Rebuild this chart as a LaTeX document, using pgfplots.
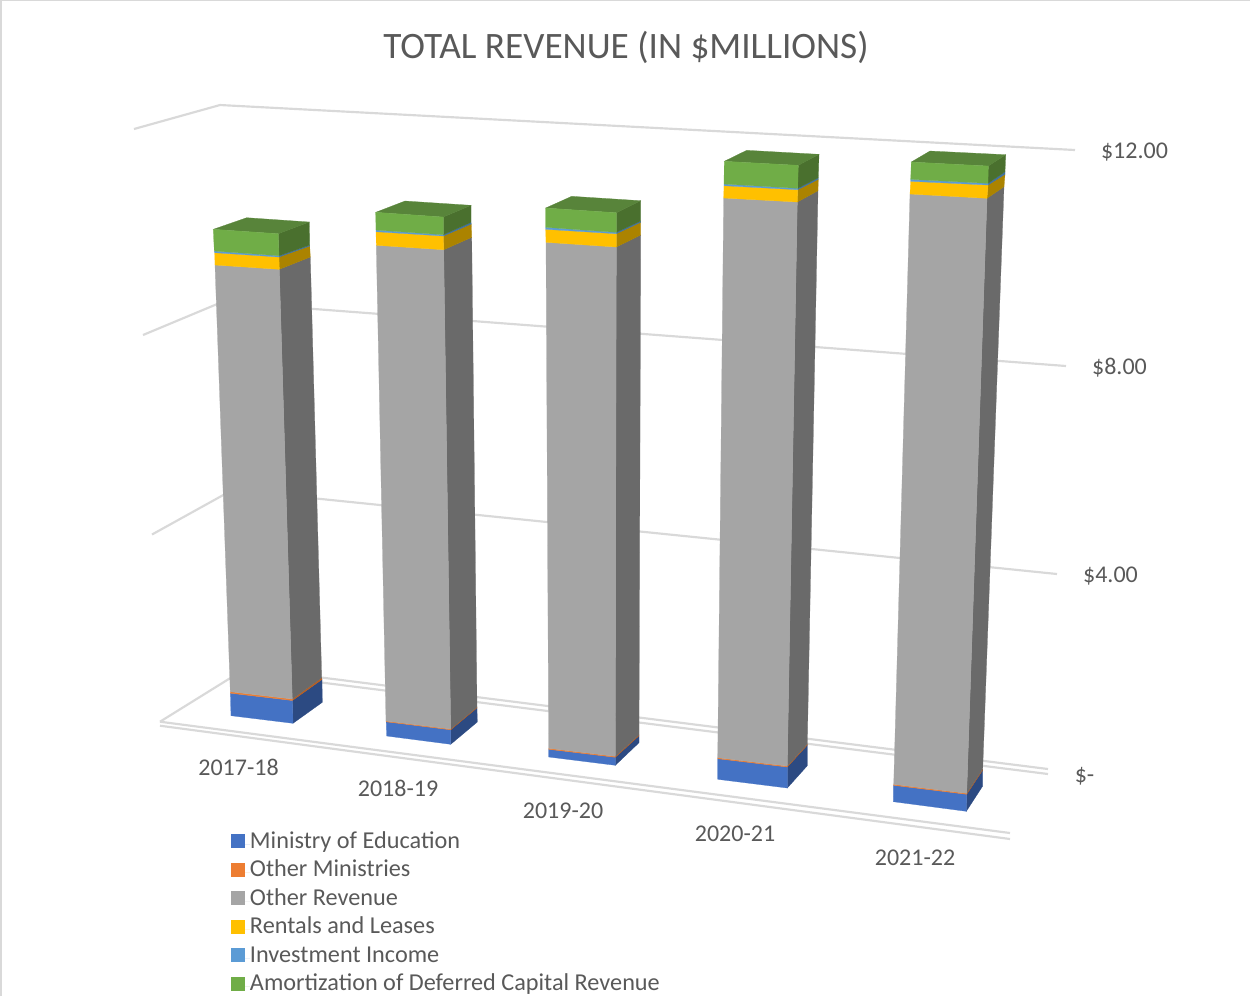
\documentclass[border=0pt]{standalone}
\usepackage{fontspec}
\setmainfont{Carlito}
\usepackage{pgfplots}
\pgfplotsset{compat=1.18}
\definecolor{cBlue}{HTML}{4472C4}\definecolor{sBlue}{HTML}{2C4A82}
\definecolor{cOrange}{HTML}{ED7D31}\definecolor{sOrange}{HTML}{B85F22}
\definecolor{cGray}{HTML}{A5A5A5}\definecolor{sGray}{HTML}{6A6A6A}
\definecolor{cYellow}{HTML}{FFC000}\definecolor{sYellow}{HTML}{AB8300}
\definecolor{cLBlue}{HTML}{5B9BD5}\definecolor{sLBlue}{HTML}{3F72A0}
\definecolor{cGreen}{HTML}{70AD47}\definecolor{sGreen}{HTML}{4A702E}\definecolor{tGreen}{HTML}{58843A}
\definecolor{grid}{HTML}{D9D9D9}\definecolor{txt}{HTML}{595959}
\pgfplotsset{
  poly/.style={fill=#1,draw=#1,line width=0.15pt,forget plot,mark=none},
  gl/.style={draw=grid,line width=1.3pt,forget plot,mark=none},
}
\tikzset{lab/.style={font=\fontsize{14.4pt}{16pt}\selectfont,text=txt,inner sep=0pt,anchor=center}}
\begin{document}
\begin{tikzpicture}
\useasboundingbox (0,0) rectangle (750pt,597.6pt);
\begin{axis}[
  at={(0,0)},anchor=south west,
  width=750pt,height=597.6pt,scale only axis,
  xmin=0,xmax=1250,ymin=0,ymax=996,y dir=reverse,
  hide axis,clip=false,
  legend style={at={(0.1848,0.1668)},anchor=north west,draw=none,fill=none,inner sep=0pt,outer sep=0pt,
    font=\fontsize{14.55pt}{16pt}\selectfont,text=txt,row sep=0pt,
    nodes={text height=11pt,text depth=6.1pt,inner sep=0pt,outer sep=0pt}},
  legend cell align=left,
  legend image code/.code={\path[#1] (0pt,-2.5pt) rectangle (8.6pt,5.9pt);\path (0pt,0pt) -- (11.4pt,0pt);},
]
% frame
\addplot[draw=grid,line width=0.8pt,forget plot,mark=none] coordinates {(1,996) (1,0.5) (1250,0.5)};
% walls and floor gridlines
\addplot[gl] coordinates {(134,129) (220,105) (1075,150)};
\addplot[gl] coordinates {(143,335) (222,302) (1066,366)};
\addplot[gl] coordinates {(152,534.5) (226,493.5)};
\addplot[gl] coordinates {(226,489.3) (1057,574)};
\addplot[gl] coordinates {(230,666) (1048,769)};
\addplot[gl] coordinates {(230,671) (1048,774)};
\addplot[gl] coordinates {(160,721.7) (232,677)};
\addplot[gl] coordinates {(160,721.7) (1010,833)};
\addplot[gl] coordinates {(160,725.7) (1010,839)};
% ---- 2017-18
\addplot[poly=sBlue] coordinates {(293,723.3) (322.3,702.3) (322,679.5) (292.4,700.5)} -- cycle;
\addplot[poly=sOrange] coordinates {(292.4,700.5) (322,679.5) (321.7,677.7) (292.3,699)} -- cycle;
\addplot[poly=sGray] coordinates {(292.3,699) (321.7,677.7) (310.3,257) (279.3,269.3)} -- cycle;
\addplot[poly=sYellow] coordinates {(279.3,269.3) (310.3,257) (309.7,246) (279,257)} -- cycle;
\addplot[poly=sLBlue] coordinates {(279,257) (309.7,246) (309.7,245) (279,255.7)} -- cycle;
\addplot[poly=sGreen] coordinates {(279,255.7) (309.7,245) (309.3,222) (278.3,233.7)} -- cycle;
\addplot[poly=tGreen] coordinates {(213.3,229.3) (278.3,233.7) (309.3,222) (246.7,217.7)} -- cycle;
\addplot[poly=cBlue] coordinates {(231,715.7) (293,723.3) (292.4,700.5) (230.4,693.2)} -- cycle;
\addplot[poly=cOrange] coordinates {(230.4,693.2) (292.4,700.5) (292.3,699) (230.3,691.7)} -- cycle;
\addplot[poly=cGray] coordinates {(230.3,691.7) (292.3,699) (279.3,269.3) (215,265)} -- cycle;
\addplot[poly=cYellow] coordinates {(215,265) (279.3,269.3) (279,257) (214.7,252.7)} -- cycle;
\addplot[poly=cLBlue] coordinates {(214.7,252.7) (279,257) (279,255.7) (214.3,251)} -- cycle;
\addplot[poly=cGreen] coordinates {(214.3,251) (279,255.7) (278.3,233.7) (213.3,229.3)} -- cycle;
% ---- 2018-19
\addplot[poly=sBlue] coordinates {(450.7,744.3) (477.3,722) (477,707.8) (450.7,729.8)} -- cycle;
\addplot[poly=sOrange] coordinates {(450.7,729.8) (477,707.8) (477,707) (450.7,729)} -- cycle;
\addplot[poly=sGray] coordinates {(450.7,729) (477,707) (471.7,237.3) (443.7,249.7)} -- cycle;
\addplot[poly=sYellow] coordinates {(443.7,249.7) (471.7,237.3) (471.3,224) (443.3,236)} -- cycle;
\addplot[poly=sLBlue] coordinates {(443.3,236) (471.3,224) (471,222.3) (443.3,234.7)} -- cycle;
\addplot[poly=sGreen] coordinates {(443.3,234.7) (471,222.3) (471,205.3) (443.3,217)} -- cycle;
\addplot[poly=tGreen] coordinates {(375.7,212.3) (443.3,217) (471,205.3) (405,201)} -- cycle;
\addplot[poly=cBlue] coordinates {(386.7,736) (450.7,744.3) (450.7,729.8) (386.2,721.8)} -- cycle;
\addplot[poly=cOrange] coordinates {(386.2,721.8) (450.7,729.8) (450.7,729) (386,721)} -- cycle;
\addplot[poly=cGray] coordinates {(386,721) (450.7,729) (443.7,249.7) (376.3,245.3)} -- cycle;
\addplot[poly=cYellow] coordinates {(376.3,245.3) (443.7,249.7) (443.3,236) (376,231.7)} -- cycle;
\addplot[poly=cLBlue] coordinates {(376,231.7) (443.3,236) (443.3,234.7) (376,230)} -- cycle;
\addplot[poly=cGreen] coordinates {(376,230) (443.3,234.7) (443.3,217) (375.7,212.3)} -- cycle;
% ---- 2019-20
\addplot[poly=sBlue] coordinates {(615.3,765.3) (639,742.7) (639,735.7) (615.3,757.3)} -- cycle;
\addplot[poly=sOrange] coordinates {(615.3,757.3) (639,735.7) (639,734.7) (615.3,756.3)} -- cycle;
\addplot[poly=sGray] coordinates {(615.3,756.3) (639,734.7) (640.7,235) (616.3,247)} -- cycle;
\addplot[poly=sYellow] coordinates {(616.3,247) (640.7,235) (640.7,222.3) (616.3,233.7)} -- cycle;
\addplot[poly=sLBlue] coordinates {(616.3,233.7) (640.7,222.3) (640.7,221) (616.3,232.3)} -- cycle;
\addplot[poly=sGreen] coordinates {(616.3,232.3) (640.7,221) (640.7,200.7) (616.3,212.7)} -- cycle;
\addplot[poly=tGreen] coordinates {(545.7,208) (616.3,212.7) (640.7,200.7) (571.7,196.3)} -- cycle;
\addplot[poly=cBlue] coordinates {(548.7,757) (615.3,765.3) (615.3,757.3) (548.7,749.3)} -- cycle;
\addplot[poly=cOrange] coordinates {(548.7,749.3) (615.3,757.3) (615.3,756.3) (548.7,748.3)} -- cycle;
\addplot[poly=cGray] coordinates {(548.7,748.3) (615.3,756.3) (616.3,247) (546,242.3)} -- cycle;
\addplot[poly=cYellow] coordinates {(546,242.3) (616.3,247) (616.3,233.7) (545.7,229.3)} -- cycle;
\addplot[poly=cLBlue] coordinates {(545.7,229.3) (616.3,233.7) (616.3,232.3) (545.7,227.3)} -- cycle;
\addplot[poly=cGreen] coordinates {(545.7,227.3) (616.3,232.3) (616.3,212.7) (545.7,208)} -- cycle;
% ---- 2020-21
\addplot[poly=sBlue] coordinates {(787.3,788) (807.3,765.7) (807.3,745) (787.3,767)} -- cycle;
\addplot[poly=sOrange] coordinates {(787.3,767) (807.3,745) (807.3,744) (787.3,766)} -- cycle;
\addplot[poly=sGray] coordinates {(787.3,766) (807.3,744) (818,190.7) (797.3,202)} -- cycle;
\addplot[poly=sYellow] coordinates {(797.3,202) (818,190.7) (818.3,179.3) (797.7,189.7)} -- cycle;
\addplot[poly=sLBlue] coordinates {(797.7,189.7) (818.3,179.3) (818.3,177.7) (797.7,188.3)} -- cycle;
\addplot[poly=sGreen] coordinates {(797.7,188.3) (818.3,177.7) (819,154.3) (798.3,165.3)} -- cycle;
\addplot[poly=tGreen] coordinates {(724.3,161.3) (798.3,165.3) (819,154.3) (746.7,150.3)} -- cycle;
\addplot[poly=cBlue] coordinates {(717.7,779.3) (787.3,788) (787.3,767) (717.7,758.7)} -- cycle;
\addplot[poly=cOrange] coordinates {(717.7,758.7) (787.3,767) (787.3,766) (717.7,757.7)} -- cycle;
\addplot[poly=cGray] coordinates {(717.7,757.7) (787.3,766) (797.3,202) (723.7,198)} -- cycle;
\addplot[poly=cYellow] coordinates {(723.7,198) (797.3,202) (797.7,189.7) (724,185.7)} -- cycle;
\addplot[poly=cLBlue] coordinates {(724,185.7) (797.7,189.7) (797.7,188.3) (724,184)} -- cycle;
\addplot[poly=cGreen] coordinates {(724,184) (797.7,188.3) (798.3,165.3) (724.3,161.3)} -- cycle;
% ---- 2021-22
\addplot[poly=sBlue] coordinates {(966.3,811.3) (982.7,786) (982.7,770) (966.7,794.3)} -- cycle;
\addplot[poly=sOrange] coordinates {(966.7,794.3) (982.7,770) (982.7,769) (966.7,793.3)} -- cycle;
\addplot[poly=sGray] coordinates {(966.7,793.3) (982.7,769) (1004,186.7) (987,198.3)} -- cycle;
\addplot[poly=sYellow] coordinates {(987,198.3) (1004,186.7) (1005,174.3) (988,185)} -- cycle;
\addplot[poly=sLBlue] coordinates {(988,185) (1005,174.3) (1005,171.7) (988,183.3)} -- cycle;
\addplot[poly=sGreen] coordinates {(988,183.3) (1005,171.7) (1005.7,154.7) (988.3,166)} -- cycle;
\addplot[poly=tGreen] coordinates {(911.3,162) (988.3,166) (1005.7,154.7) (930,151)} -- cycle;
\addplot[poly=cBlue] coordinates {(893.3,801.7) (966.3,811.3) (966.7,794.3) (893.5,785.3)} -- cycle;
\addplot[poly=cOrange] coordinates {(893.5,785.3) (966.7,794.3) (966.7,793.3) (893.7,784.3)} -- cycle;
\addplot[poly=cGray] coordinates {(893.7,784.3) (966.7,793.3) (987,198.3) (910,194)} -- cycle;
\addplot[poly=cYellow] coordinates {(910,194) (987,198.3) (988,185) (910.7,181.3)} -- cycle;
\addplot[poly=cLBlue] coordinates {(910.7,181.3) (988,185) (988,183.3) (910.7,179.3)} -- cycle;
\addplot[poly=cGreen] coordinates {(910.7,179.3) (988,183.3) (988.3,166) (911.3,162)} -- cycle;
% text
\node[lab,font=\fontsize{22.37pt}{24pt}\selectfont] at (axis cs:626,47.5) {TOTAL REVENUE (IN \$MILLIONS)};
\node[lab] at (axis cs:1134.5,152) {\$12.00};
\node[lab] at (axis cs:1119.5,368) {\$8.00};
\node[lab] at (axis cs:1110.5,576) {\$4.00};
\node[lab] at (axis cs:1084.5,776) {\$-};
\node[lab] at (axis cs:238.5,767.5) {2017-18};
\node[lab] at (axis cs:398,788.5) {2018-19};
\node[lab] at (axis cs:563,810.5) {2019-20};
\node[lab] at (axis cs:735,833.5) {2020-21};
\node[lab] at (axis cs:915,857.5) {2021-22};
% legend
\addlegendimage{fill=cBlue,draw=none}\addlegendentry{Ministry of Education}
\addlegendimage{fill=cOrange,draw=none}\addlegendentry{Other Ministries}
\addlegendimage{fill=cGray,draw=none}\addlegendentry{Other Revenue}
\addlegendimage{fill=cYellow,draw=none}\addlegendentry{Rentals and Leases}
\addlegendimage{fill=cLBlue,draw=none}\addlegendentry{Investment Income}
\addlegendimage{fill=cGreen,draw=none}\addlegendentry{Amortization of Deferred Capital Revenue}
\end{axis}
\end{tikzpicture}
\end{document}
